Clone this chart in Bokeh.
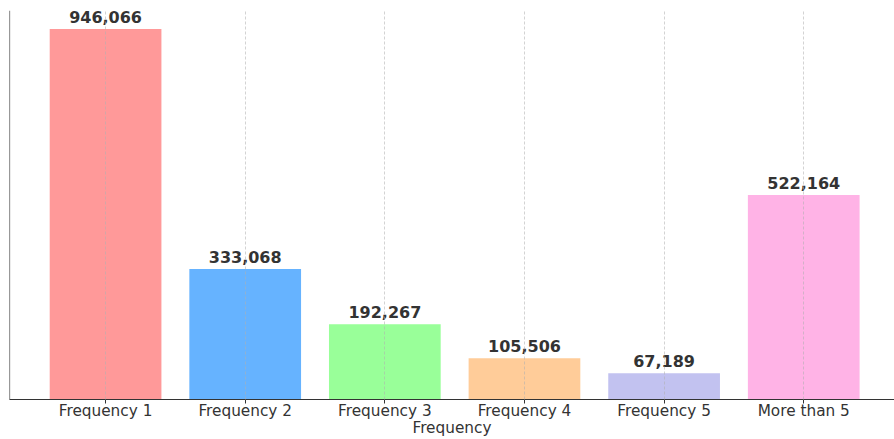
from bokeh.plotting import figure
from bokeh.models import Range1d, FixedTicker, Span, ColumnDataSource
from bokeh.core.properties import value
from bokeh.embed import file_html
from bokeh.resources import INLINE

categories = ["Frequency 1", "Frequency 2", "Frequency 3", "Frequency 4", "Frequency 5", "More than 5"]
counts = [946066, 333068, 192267, 105506, 67189, 522164]
colors = ["#ff9999", "#66b3ff", "#99ff99", "#ffcc99", "#c2c2f0", "#ffb3e6"]
x_title = "Frequency"

xs = list(range(len(categories)))
labels = [f"{v:,}" for v in counts]
src = ColumnDataSource(dict(x=xs, top=counts, color=colors, label=labels))

ymax = max(counts) * 1.05
p = figure(width=894, height=439, output_backend="svg", toolbar_location=None,
           x_range=Range1d(-0.688, 5.65), y_range=Range1d(0, ymax),
           min_border_left=9, min_border_right=0, min_border_top=10, min_border_bottom=40)
p.outline_line_color = None
p.yaxis.visible = False
p.ygrid.visible = False

p.vbar(x="x", top="top", width=0.8, fill_color="color", line_color=None, source=src)
p.text(x="x", y="top", text="label", source=src, text_align="center", text_baseline="bottom",
       y_offset=-6, text_font=value("DejaVu Sans"), text_font_size="16px", text_font_style="bold",
       text_color="#333333")

ax = p.xaxis[0]
ax.ticker = FixedTicker(ticks=xs)
ax.major_label_overrides = {i: c for i, c in zip(xs, categories)}
ax.major_label_text_font = "DejaVu Sans"
ax.major_label_text_font_size = "15.3px"
ax.major_label_text_color = "#333333"
ax.major_label_standoff = -2
ax.axis_label = x_title
ax.axis_label_text_font = "DejaVu Sans"
ax.axis_label_text_font_size = "15.3px"
ax.axis_label_text_font_style = "normal"
ax.axis_label_text_color = "#333333"
ax.axis_label_standoff = -4
ax.major_tick_in = 0
ax.major_tick_out = 4
ax.major_tick_line_color = "#333333"
ax.minor_tick_line_color = None
ax.axis_line_color = "#333333"
ax.axis_line_width = 1.2

g = p.xgrid[0]
g.level = "overlay"
g.grid_line_color = "#b0b0b0"
g.grid_line_alpha = 0.7
g.grid_line_dash = "3 2"
g.grid_line_width = 0.8

p.add_layout(Span(location=-0.688, dimension="height", line_color="#333333", line_width=1.2))

open("out.html", "w").write(file_html(p, INLINE))
